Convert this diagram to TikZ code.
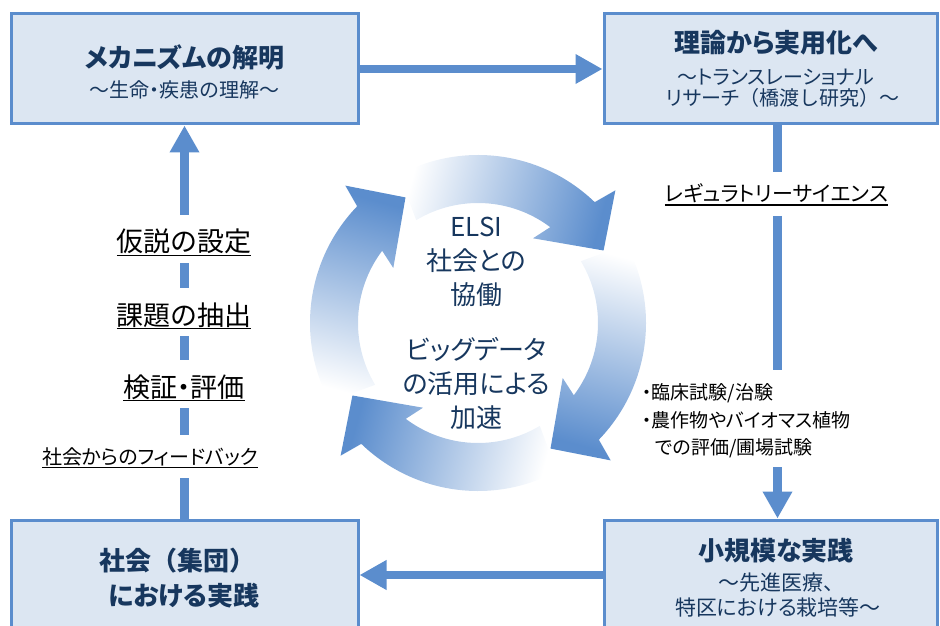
\documentclass[tikz,border=0pt]{standalone}
\usepackage{fontspec}
\setmainfont{Noto Sans CJK JP}[RawFeature=+palt]
\newfontfamily\jpfull{Noto Sans CJK JP}
\usetikzlibrary{arrows.meta,calc}
\definecolor{cb}{RGB}{91,141,205}
\definecolor{boxfill}{RGB}{220,230,242}
\definecolor{navy}{RGB}{23,55,94}
\begin{document}
\begin{tikzpicture}[x=1pt,y=1pt,
  box/.style={draw=cb, line width=3pt, fill=boxfill, inner sep=0pt},
  flow/.style={draw=cb, line width=8.5pt},
  flowarrow/.style={flow, -{Triangle[length=27pt,width=28pt]}},
  ttl/.style={font=\fontsize{26}{30}\selectfont\bfseries, text=navy, inner sep=0pt, anchor=base},
  sub/.style={font=\fontsize{20}{24}\selectfont, text=navy, inner sep=0pt, anchor=base},
  subb/.style={font=\fontsize{21}{24}\selectfont, text=navy, inner sep=0pt, anchor=base},
  lab/.style={font=\fontsize{27}{30}\selectfont, text=black, inner xsep=0pt, inner ysep=0pt, text height=37pt, text depth=11pt, anchor=base},
  labs/.style={font=\fontsize{20}{24}\selectfont, text=black, inner xsep=0pt, inner ysep=0pt, text height=29pt, text depth=14pt, anchor=base},
  ul/.style={draw=black, line width=1.4pt},
  mid/.style={font=\fontsize{26}{34}\selectfont, text=navy, align=center, inner sep=0pt},
  bullets/.style={font=\fontsize{19}{27.5}\selectfont, text=black, align=left, anchor=north west, inner sep=0pt},
]
\useasboundingbox (0,0) rectangle (940,625);
\clip (0,0) rectangle (940,625);

% boxes
\node[box, minimum width=347pt, minimum height=110pt] (tl) at (184.5,556) {};
\node[box, minimum width=333pt, minimum height=110pt] (tr) at (770.5,556) {};
\node[box, minimum width=347pt, minimum height=135pt] (bl) at (184.5,37.5) {};
\node[box, minimum width=333pt, minimum height=135pt] (br) at (770.5,37.5) {};

% box texts
\node[ttl] (tlt) at (184.5,557.5) {メカニズムの解明};
\node[sub] (tls) at (184.5,527.4) {～生命・疾患の理解～};
\node[ttl] (trt) at (776,572) {理論から実用化へ};
\node[sub] (trs1) at (776,540.4) {～トランスレーショナル};
\node[sub] (trs2) at (783,519.4) {リサーチ{\jpfull（橋渡し研究）}～};
\node[ttl] (blt1) at (177,55) {社会{\jpfull（集団）}};
\node[ttl] (blt2) at (184,20) {における実践};
\node[ttl] (brt) at (776,65) {小規模な実践};
\node[subb] (brs1) at (776,35) {～先進医療、};
\node[subb] (brs2) at (778,10) {特区における栽培等～};

% cycle arrows
\begin{scope}[shift={(478,302)}]
\foreach \k in {0,1,2,3}{
  \pgfmathsetmacro{\off}{-90*\k}
  \pgfmathsetmacro{\sa}{-105-90*\k}
  \shade[bottom color=white, top color=cb, shading angle=\sa]
   (118+\off:168) arc[start angle=118+\off, end angle=46+\off, radius=168]
   -- (44+\off:191) -- (30+\off:145) -- (57+\off:101) -- (53+\off:120)
   arc[start angle=53+\off, end angle=121+\off, radius=120] -- cycle;
}
\end{scope}

\node[mid] (m1) at (476.5,363.5) {ELSI\\社会との\\協働};
\node[mid] (m2) at (476.5,241.5) {ビッグデータ\\の活用による\\加速};

% left labels
\node[lab] (l1) at (184,373) {仮説の設定};
\node[lab] (l2) at (184,300) {課題の抽出};
\node[lab] (l3) at (184,228) {検証・評価};
\node[labs] (l4) at (150,161) {社会からのフィードバック};
\foreach \n in {l1,l2,l3,l4}{
  \draw[ul] ([yshift=-3.5pt]\n.base west) -- ([yshift=-3.5pt]\n.base east);
}

% right labels
\coordinate (rx) at (777.5,0);
\coordinate (ybot) at (0,50);
\node[labs, font=\fontsize{21}{24}\selectfont] (rs) at (776.5,423.4) {レギュラトリーサイエンス};
\draw[ul] ([yshift=-3.5pt]rs.base west) -- ([yshift=-3.5pt]rs.base east);
\node[bullets] (bul) at (642,241.3) {・臨床試験/治験\\・農作物やバイオマス植物\\\hspace*{13pt}での評価/圃場試験};

% connectors
\draw[flowarrow] (tl.east) -- (tr.west);
\draw[flowarrow] (br.west |- ybot) -- (bl.east |- ybot);

\draw[flow] (bl.north) -- (l4.south -| bl.north);
\draw[flow] (l4.north -| bl.north) -- (l3.south -| bl.north);
\draw[flow] (l3.north -| bl.north) -- (l2.south -| bl.north);
\draw[flow] (l2.north -| bl.north) -- (l1.south -| bl.north);
\draw[flowarrow] (l1.north -| bl.north) -- (tl.south);

\draw[flow] (tr.south -| rx) -- (rs.north -| rx);
\draw[flow] (rs.south -| rx) -- ([yshift=14pt]bul.north -| rx);
\draw[flowarrow] ([yshift=-9pt]bul.south -| rx) -- (br.north -| rx);
\end{tikzpicture}
\end{document}
